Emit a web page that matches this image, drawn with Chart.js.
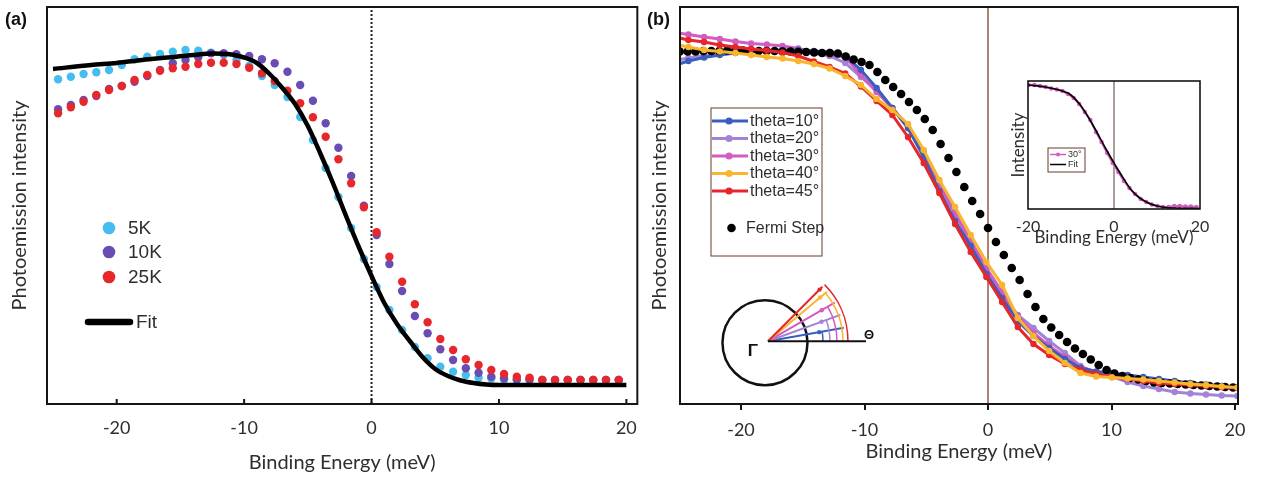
<!DOCTYPE html>
<html><head><meta charset="utf-8">
<script src="https://cdn.jsdelivr.net/npm/chart.js@4.4.1/dist/chart.umd.min.js"></script>
<style>
html,body{margin:0;padding:0;background:#fff;}
#wrap{position:relative;width:1264px;height:479px;overflow:hidden;background:#fff;}
canvas{position:absolute;}
.plabel{position:absolute;font:bold 18px "Liberation Sans",Arial,sans-serif;color:#111;line-height:21px;}
</style></head><body>
<div id="wrap">
<canvas id="cA" width="650" height="479" style="left:0;top:0"></canvas>
<canvas id="cB" width="624" height="479" style="left:640px;top:0"></canvas>
<canvas id="cI" width="220" height="190" style="left:1000px;top:70px"></canvas>
<div class="plabel" style="left:5px;top:9px">(a)</div>
<div class="plabel" style="left:647px;top:9px">(b)</div>
</div>
<script>
// ---------- shared ----------
const FERMI_LEVEL = 0;

// ---------- Panel (a) ----------
const energyA = [-24.6,-23.6,-22.6,-21.6,-20.6,-19.6,-18.6,-17.6,-16.6,-15.6,-14.6,-13.6,-12.6,-11.6,-10.6,-9.6,-8.6,-7.6,-6.6,-5.6,-4.6,-3.6,-2.6,-1.6,-0.6,0.4,1.4,2.4,3.4,4.4,5.4,6.4,7.4,8.4,9.4,10.4,11.4,12.4,13.4,14.4,15.4,16.4,17.4,18.4,19.4];
const int5K = [324.7,327.3,330,331.7,334,339,344.7,347.3,350,352.3,354,353.3,351.3,349,344,338,328,319,307,287,264,236,207,176,145,117,94,74,57,45.7,37.3,32.3,29,26.3,25.7,24.5,24,24,24,24,24,24,24,24,24];
const int10K = [294.7,299,304,308,315,318,322.3,328,334,340.7,344,346.7,350.7,350.7,349.7,348,344.7,340.7,332.3,319,303.3,280.7,256.3,228,198.3,169,140,113,88,70.7,54.7,44,35.7,31.3,27.3,25.7,24.5,24.5,24,24,24,24,24,24,24];
const int25K = [290.7,296.7,302.3,309,314,318,324,329,333.3,335.7,337.3,340,341.3,341.3,340,336.3,330.7,323,313.3,300.7,286.7,267.3,244.7,220.7,196.7,171.7,147.3,122.3,99.7,81.7,65,54,44.7,39,34,30,27.3,26.3,24,24,24,24,24,24,24];
const fitEnergyA = [-25,-22,-20,-18,-16,-14,-12.5,-11,-10,-9,-8,-7,-6,-5,-4,-3,-2,-1,0,1,2,3,4,5,6,7,8,9,10,15,20];
const fitIntA = [335,339,341,344,346.5,349,350.5,349.5,346.5,341,330,316,300,278,250,220,188,157,128,101,80,63,47,35,28,23.5,21,19.5,19,19,19];
const ticksA = [-20,-10,0,10,20];

// ---------- Panel (b) ----------
const energyB = [-25.53,-24.26,-22.99,-21.72,-20.45,-19.18,-17.91,-16.64,-15.37,-14.10,-12.83,-11.56,-10.29,-9.02,-7.75,-6.48,-5.21,-3.94,-2.67,-1.40,-0.13,1.14,2.41,3.68,4.95,6.22,7.49,8.76,10.03,11.30,12.57,13.84,15.11,16.38,17.65,18.92,20.19];
const theta10 = [338,343,346.5,349,351,352.5,353.5,354,354,353,352,348,334,316,296,276,247,213,183,158,130,106,83,68,56,45,36,32.5,31,29,27,25,23,21,19.5,18,17];
const theta20 = [343,346,348.5,350.5,352,352.5,352.5,352.5,352,351,348,341,327,314,296,276,249,218,190,161,134,109,89,76,63,51,38,31,27.5,22,18,15,12,10.5,9.5,8.5,8];
const theta30 = [372,369.5,367,365,362.5,360.5,359.5,358,355.5,352,349,347,329,312,296,278,252,221,191,163,136,112,88,71,58,47,37,32,29,27,25,23,21,19.5,18,17,16];
const theta40 = [360,357,354,352.5,351,349,347,345.5,343,340,335.5,328,319,305,294,280,254,224,197,169,142,119,86,68,53,41,31,27.5,26.5,25.5,24.5,23,21.5,20,19,17.5,16.5];
const theta45 = [367.5,364,362,359,357,355,353.5,351.5,348,342.5,337,330.5,317.5,303,289,267,241,211,180,152,127,102,77,60,49,40,34,30,27,25,23,21,20,19,18,17,16];
const energyFermi = [-24.96,-24.32,-23.68,-23.04,-22.4,-21.76,-21.12,-20.48,-19.84,-19.2,-18.56,-17.92,-17.28,-16.64,-16,-15.36,-14.72,-14.08,-13.44,-12.8,-12.16,-11.52,-10.88,-10.24,-9.6,-8.96,-8.32,-7.68,-7.04,-6.4,-5.76,-5.12,-4.48,-3.84,-3.2,-2.56,-1.92,-1.28,-0.64,0,0.64,1.28,1.92,2.56,3.2,3.84,4.48,5.12,5.76,6.4,7.04,7.68,8.32,8.96,9.6,10.24,10.88,11.52,12.16,12.8,13.44,14.08,14.72,15.36,16,16.64,17.28,17.92,18.56,19.2,19.84];
const fermiStep = [352.5,352.5,352.5,353,353,353,353.5,353.5,353.5,353.5,353,353,353,352.5,352.5,352,352,351.5,351,351,350.5,347.5,344.5,342,339,332,324,317,310,302,294,285,274,260,246,232,217,203,190,176,162,149,136,124,110,97,85,76.5,69,62,55.5,50,44.5,39,34,30.5,28,26,24.5,23,21.5,21,20.5,20,19.5,19,18.5,18,17.5,17,16.5];
const ticksB = [-20,-10,0,10,20];
const diagramAngles = [10,20,30,40,45];

// ---------- Inset ----------
const energyInset = [-19.8,-18.5,-17.2,-15.9,-14.6,-13.3,-12,-10.7,-9.4,-8.1,-6.8,-5.5,-4.2,-2.9,-1.6,-0.3,1,2.3,3.6,4.9,6.2,7.5,8.8,10.1,11.4,12.7,14,15.3,16.6,17.9,19.2];
const inset30 = [124,124,123,122,120.5,119.5,118,115,111,105,97,89,77,67,56,46,37,28,21,15,10,7,4.5,3,2,2,3,3,2.5,2.5,2];
const fitEnergyInset = [-20,-16,-12,-10,-8,-6,-4,-2,0,2,4,6,8,10,12,14,20];
const fitInset = [124,122,118,114,105,92,77,61,46,32,19,11,6,3,1.5,1,0.5];
const ticksInset = [-20,0,20];

// ---------- helpers ----------
const pts = (xs, ys) => xs.map((x, i) => ({x, y: ys[i]}));
const vline = (x, y0, y1) => [{x, y: y0}, {x, y: y1}];
const AXF = 'Lato, "Open Sans", sans-serif';
const LGF = '"Liberation Sans", Arial, sans-serif';
const TXT = '#2e2e2e';
Chart.defaults.animation = false;
Chart.defaults.font.family = AXF;

const C5 = '#45BDEE', C10K = '#6A4DB3', C25 = '#E7272B';
const CT10 = '#3A5DBF', CT20 = '#A283D8', CT30 = '#D25CC0', CT40 = '#F8B52E', CT45 = '#E5262A';

const framePlugin = {
  id: 'frame',
  beforeDatasetsDraw(chart, a, o) {
    if (!o.fill) return;
    const {ctx, chartArea: c} = chart;
    ctx.save(); ctx.fillStyle = o.fill;
    ctx.fillRect(c.left, c.top, c.right - c.left, c.bottom - c.top);
    ctx.restore();
  },
  afterDatasetsDraw(chart, a, o) {
    const {ctx, chartArea: c} = chart;
    ctx.save();
    ctx.strokeStyle = o.color; ctx.lineWidth = o.width;
    ctx.strokeRect(c.left, c.top, c.right - c.left, c.bottom - c.top);
    if (o.innerTicks) {
      const xs = chart.scales.x;
      ctx.beginPath();
      xs.ticks.forEach(t => { const p = xs.getPixelForValue(t.value); ctx.moveTo(p, c.bottom); ctx.lineTo(p, c.bottom - o.innerTicks); });
      ctx.stroke();
    }
    ctx.restore();
  }
};

const legendPlugin = {
  id: 'cleg',
  afterDraw(chart, a, o) {
    const ctx = chart.ctx;
    ctx.save();
    if (o.box) {
      ctx.strokeStyle = o.box.color; ctx.lineWidth = o.box.width;
      ctx.strokeRect(o.box.x, o.box.y, o.box.w, o.box.h);
    }
    ctx.font = o.font; ctx.fillStyle = TXT; ctx.textBaseline = 'middle'; ctx.textAlign = 'left';
    o.items.forEach(it => {
      const ds = chart.data.datasets[it.ds];
      const col = ds.borderColor || ds.pointBackgroundColor;
      if (it.lx0 !== undefined) {
        ctx.strokeStyle = col; ctx.lineWidth = it.lw; ctx.lineCap = it.cap || 'butt';
        ctx.beginPath(); ctx.moveTo(it.lx0, it.y); ctx.lineTo(it.lx1, it.y); ctx.stroke();
      }
      if (it.dx !== undefined) {
        ctx.fillStyle = ds.pointBackgroundColor || col;
        ctx.beginPath(); ctx.arc(it.dx, it.y, it.r, 0, Math.PI * 2); ctx.fill();
      }
      ctx.fillStyle = TXT;
      ctx.fillText(ds.label, it.tx, it.y + 0.5);
    });
    ctx.restore();
  }
};

const diagramPlugin = {
  id: 'diagram',
  afterDatasetsDraw(chart, a, o) {
    const {ctx} = chart; const xs = chart.scales.x, ys = chart.scales.y;
    const cx = xs.getPixelForValue(o.centerX), cy = ys.getPixelForValue(o.centerY);
    const ox = cx + 3, oy = cy - 1.5;
    const cols = [CT10, CT20, CT30, CT40, CT45];
    ctx.save();
    ctx.strokeStyle = '#111'; ctx.lineWidth = 2.5;
    ctx.beginPath(); ctx.arc(cx, cy, o.radius, 0, Math.PI * 2); ctx.stroke();
    diagramAngles.forEach((deg, i) => {
      const th = deg * Math.PI / 180;
      ctx.strokeStyle = cols[i]; ctx.fillStyle = cols[i];
      ctx.lineWidth = 2;
      ctx.beginPath(); ctx.moveTo(ox, oy); ctx.lineTo(ox + o.ray * Math.cos(th), oy - o.ray * Math.sin(th)); ctx.stroke();
      ctx.lineWidth = 1.5;
      ctx.beginPath(); ctx.arc(ox, oy, o.arcs[i], -th, 0); ctx.stroke();
      const mr = o.marks[i];
      ctx.beginPath(); ctx.arc(ox + mr * Math.cos(th), oy - mr * Math.sin(th), 2.2, 0, Math.PI * 2); ctx.fill();
    });
    ctx.strokeStyle = '#111'; ctx.lineWidth = 2;
    ctx.beginPath(); ctx.moveTo(ox, oy); ctx.lineTo(ox + 98, oy); ctx.stroke();
    ctx.fillStyle = '#111'; ctx.textAlign = 'center'; ctx.textBaseline = 'middle';
    ctx.font = 'bold 17px ' + LGF;
    ctx.fillText('Γ', cx - 12, cy + 9);
    ctx.font = 'bold 13px ' + LGF;
    ctx.fillText('Θ', ox + 101, oy - 6);
    ctx.restore();
  }
};

// ---------- Chart A ----------
new Chart(document.getElementById('cA'), {
  type: 'line',
  data: {
    datasets: [
      {label: 'Fit', data: pts(fitEnergyA, fitIntA), borderColor: '#000', borderWidth: 4.5, pointRadius: 0, cubicInterpolationMode: 'monotone', order: 0},
      {label: '25K', data: pts(energyA, int25K), showLine: false, pointRadius: 4.2, pointBackgroundColor: C25, pointBorderWidth: 0, borderColor: C25, order: 1},
      {label: '10K', data: pts(energyA, int10K), showLine: false, pointRadius: 4.2, pointBackgroundColor: C10K, pointBorderWidth: 0, borderColor: C10K, order: 2},
      {label: '5K', data: pts(energyA, int5K), showLine: false, pointRadius: 4.2, pointBackgroundColor: C5, pointBorderWidth: 0, borderColor: C5, order: 3},
      {label: 'EF', data: vline(FERMI_LEVEL, 0, 397), borderColor: '#222', borderWidth: 2, borderDash: [2, 2], pointRadius: 0, order: 9}
    ]
  },
  options: {
    responsive: false, devicePixelRatio: 1,
    layout: {padding: {top: 7, right: 10, left: 0, bottom: 0}},
    plugins: {
      legend: {display: false}, tooltip: {enabled: false},
      frame: {color: '#151515', width: 2, innerTicks: 5},
      cleg: {font: '19px ' + LGF, items: [
        {ds: 3, dx: 109, r: 6.3, y: 228, tx: 128},
        {ds: 2, dx: 109, r: 6.3, y: 252, tx: 128},
        {ds: 1, dx: 109, r: 6.3, y: 277, tx: 128},
        {ds: 0, lx0: 88, lx1: 130, lw: 6.5, cap: 'round', y: 322, tx: 136}
      ]}
    },
    scales: {
      x: {type: 'linear', min: -25.47, max: 20.86,
        afterBuildTicks: s => { s.ticks = ticksA.map(v => ({value: v})); },
        afterFit: s => { s.height = 75; },
        grid: {display: false, drawTicks: false}, border: {display: false},
        ticks: {font: {size: 18}, color: TXT, padding: 13},
        title: {display: true, text: 'Binding Energy (meV)', font: {size: 20}, color: TXT, padding: {top: 0, bottom: 4}}},
      y: {type: 'linear', min: 0, max: 397,
        afterFit: s => { s.width = 47; },
        grid: {display: false, drawTicks: false}, border: {display: false},
        ticks: {display: false},
        title: {display: true, text: 'Photoemission intensity', font: {size: 20}, color: TXT, padding: {top: 8, bottom: 0}}}
    }
  },
  plugins: [framePlugin, legendPlugin]
});

// ---------- Chart B ----------
const thetaDs = (label, ys, col, ord) => ({label, data: pts(energyB, ys), borderColor: col, backgroundColor: col, borderWidth: 3, pointRadius: 3.2, pointBackgroundColor: col, pointBorderWidth: 0, tension: 0, order: ord});
new Chart(document.getElementById('cB'), {
  type: 'line',
  data: {
    datasets: [
      thetaDs('theta=10°', theta10, CT10, 3),
      thetaDs('theta=20°', theta20, CT20, 5),
      thetaDs('theta=30°', theta30, CT30, 4),
      thetaDs('theta=40°', theta40, CT40, 0),
      thetaDs('theta=45°', theta45, CT45, 1),
      {label: 'Fermi Step', data: pts(energyFermi, fermiStep), showLine: false, pointRadius: 4.3, pointBackgroundColor: '#000', pointBorderWidth: 0, borderColor: '#000', order: 2},
      {label: 'EF', data: vline(FERMI_LEVEL, 0, 397), borderColor: '#9a5543', borderWidth: 1.5, pointRadius: 0, order: 9}
    ]
  },
  options: {
    responsive: false, devicePixelRatio: 1,
    layout: {padding: {top: 7, right: 26, left: 0, bottom: 0}},
    plugins: {
      legend: {display: false}, tooltip: {enabled: false},
      frame: {color: '#151515', width: 2},
      cleg: {font: '16px ' + LGF, box: {x: 71, y: 108, w: 111, h: 148, color: '#6b3b2a', width: 1}, items: [
        {ds: 0, lx0: 72, lx1: 108, lw: 3, dx: 89, r: 3.6, y: 121, tx: 110},
        {ds: 1, lx0: 72, lx1: 108, lw: 3, dx: 89, r: 3.6, y: 138.5, tx: 110},
        {ds: 2, lx0: 72, lx1: 108, lw: 3, dx: 89, r: 3.6, y: 156, tx: 110},
        {ds: 3, lx0: 72, lx1: 108, lw: 3, dx: 89, r: 3.6, y: 173.5, tx: 110},
        {ds: 4, lx0: 72, lx1: 108, lw: 3, dx: 89, r: 3.6, y: 191, tx: 110},
        {ds: 5, dx: 91.5, r: 4.3, y: 228, tx: 106}
      ]},
      diagram: {centerX: -18.06, centerY: 61.3, radius: 42.5, ray: 77, arcs: [55, 62, 69, 75, 80], marks: [52, 57, 62, 68, 73]}
    },
    scales: {
      x: {type: 'linear', min: -24.94, max: 20.24,
        afterBuildTicks: s => { s.ticks = ticksB.map(v => ({value: v})); },
        afterFit: s => { s.height = 75; },
        grid: {display: true, drawOnChartArea: false, drawTicks: true, tickLength: 6, color: '#151515', lineWidth: 2}, border: {display: false},
        ticks: {font: {size: 18}, color: TXT, padding: 9},
        title: {display: true, text: 'Binding Energy (meV)', font: {size: 20}, color: TXT, padding: {top: 0, bottom: 15}}},
      y: {type: 'linear', min: 0, max: 397,
        afterFit: s => { s.width = 40; },
        grid: {display: false, drawTicks: false}, border: {display: false},
        ticks: {display: false},
        title: {display: true, text: 'Photoemission intensity', font: {size: 20}, color: TXT, padding: {top: 8, bottom: 0}}}
    }
  },
  plugins: [framePlugin, legendPlugin, diagramPlugin]
});

// ---------- Inset ----------
new Chart(document.getElementById('cI'), {
  type: 'line',
  data: {
    datasets: [
      {label: 'Fit', data: pts(fitEnergyInset, fitInset), borderColor: '#000', borderWidth: 1.6, pointRadius: 0, cubicInterpolationMode: 'monotone', order: 0},
      {label: '30°', data: pts(energyInset, inset30), borderColor: CT30, borderWidth: 2, pointRadius: 2.2, pointBackgroundColor: CT30, pointBorderWidth: 0, order: 1},
      {label: 'EF', data: vline(FERMI_LEVEL, 0, 128), borderColor: '#5a3a30', borderWidth: 1, pointRadius: 0, order: 9}
    ]
  },
  options: {
    responsive: false, devicePixelRatio: 1,
    layout: {padding: {top: 11, right: 20, left: 0, bottom: 0}},
    plugins: {
      legend: {display: false}, tooltip: {enabled: false},
      frame: {color: '#151515', width: 1.6, fill: '#fff'},
      cleg: {font: '9px ' + LGF, box: {x: 48, y: 78, w: 37, h: 24, color: '#6b3b2a', width: 1}, items: [
        {ds: 1, lx0: 50, lx1: 66, lw: 1.5, dx: 58, r: 2, y: 84.5, tx: 68},
        {ds: 0, lx0: 50, lx1: 66, lw: 1.5, y: 94.5, tx: 68}
      ]}
    },
    scales: {
      x: {type: 'linear', min: -20, max: 20,
        afterBuildTicks: s => { s.ticks = ticksInset.map(v => ({value: v})); },
        afterFit: s => { s.height = 51; },
        grid: {display: false, drawTicks: false}, border: {display: false},
        ticks: {font: {size: 16}, color: TXT, padding: 8.4},
        title: {display: true, text: 'Binding Energy (meV)', font: {size: 17}, color: TXT, padding: {top: 0, bottom: 11.8}}},
      y: {type: 'linear', min: 0, max: 128,
        afterFit: s => { s.width = 28; },
        grid: {display: false, drawTicks: false}, border: {display: false},
        ticks: {display: false},
        title: {display: true, text: 'Intensity', font: {size: 17}, color: TXT, padding: {top: 8.8, bottom: 0}}}
    }
  },
  plugins: [framePlugin, legendPlugin]
});
</script>
</body></html>
